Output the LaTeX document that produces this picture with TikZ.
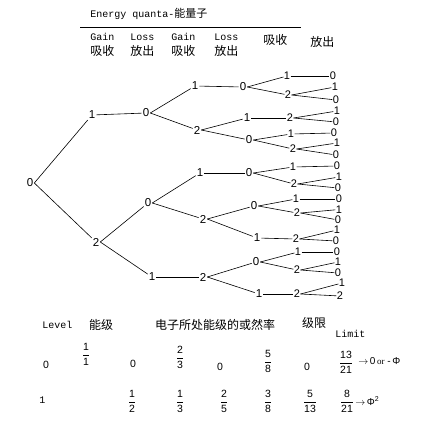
\documentclass[tikz,border=0pt]{standalone}
\usepackage{amsmath}
\usepackage{fontspec}
\setmainfont{Liberation Sans}
\newfontfamily\monofnt{Liberation Mono}
\newfontfamily\serfnt{Liberation Serif}
\newfontfamily\cjk{Noto Sans CJK SC}
\newcommand{\fr}[2]{$\dfrac{\text{#1}}{\text{#2}}$}

\begin{document}
\begin{tikzpicture}[x=1pt, y=-1pt, line width=0.6pt,
  num/.style={font=\fontsize{11.5}{13}\selectfont, inner sep=0.8pt},
  leaf/.style={font=\fontsize{11}{13}\selectfont, inner sep=0.2pt},
  mono/.style={font=\monofnt\fontsize{10}{12}\selectfont, inner sep=0pt, anchor=west},
  han/.style={font=\cjk\fontsize{12}{14}\selectfont, inner sep=0pt},
  frac/.style={font=\fontsize{10.5}{12}\selectfont, inner sep=0pt}]
	\useasboundingbox (0,0) rectangle (434,428);
	% header
	\node[mono] (title) at (90,14) {Energy quanta-{\cjk\fontsize{11}{13}\selectfont 能量子}};
	\coordinate (hl) at (80,27);
	\coordinate (hr) at (301,27);
	\draw (hl) -- (hr);
	\node[mono] (g1) at (90,37) {Gain};
	\node[mono] (l1) at (130,37) {Loss};
	\node[mono] (g2) at (171,37) {Gain};
	\node[mono] (l2) at (214,37) {Loss};
	\node[han, anchor=west] (g1c) at (90,51) {吸收};
	\node[han, anchor=west] (l1c) at (130,51) {放出};
	\node[han, anchor=west] (g2c) at (171,51) {吸收};
	\node[han, anchor=west] (l2c) at (214,51) {放出};
	\node[han, anchor=west] (g3c) at (263,40) {吸收};
	\node[han, anchor=west] (l3c) at (310,42) {放出};
	% tree
	\node[num] (r0) at (30,183) {0};
	\node[num] (a1) at (92,115) {1};
	\node[num] (a2) at (96,242) {2};
	\node[num] (b1) at (146,113) {0};
	\node[num] (b2) at (148,203) {0};
	\node[num] (b3) at (152,277) {1};
	\node[num] (c1) at (195,86) {1};
	\node[num] (c2) at (197,130) {2};
	\node[num] (c3) at (200,173) {1};
	\node[num] (c4) at (203,219) {2};
	\node[num] (c5) at (203,277) {2};
	\node[num] (d1) at (243,87) {0};
	\node[num] (d2) at (247,118) {1};
	\node[num] (d3) at (249,140) {0};
	\node[num] (d4) at (249,173) {0};
	\node[num] (d5) at (254,206) {0};
	\node[num] (d6) at (257,238) {1};
	\node[num] (d7) at (256,262) {0};
	\node[num] (d8) at (259,294) {1};
	\node[leaf] (e1) at (287,76) {1};
	\node[leaf] (e2) at (288,95) {2};
	\node[leaf] (e3) at (290,118) {2};
	\node[leaf] (e4) at (291,134) {1};
	\node[leaf] (e5) at (293,149) {2};
	\node[leaf] (e6) at (293,167) {1};
	\node[leaf] (e7) at (294,184) {2};
	\node[leaf] (e8) at (296,199) {1};
	\node[leaf] (e9) at (297,213) {2};
	\node[leaf] (e10) at (296,239) {2};
	\node[leaf] (e11) at (298,252) {1};
	\node[leaf] (e12) at (297,270) {2};
	\node[leaf] (e13) at (297,294) {2};
	\node[leaf] (f1) at (333,76) {0};
	\node[leaf] (f2) at (335,87) {1};
	\node[leaf] (f3) at (336,100) {0};
	\node[leaf] (f4) at (337,111) {1};
	\node[leaf] (f5) at (336,122) {0};
	\node[leaf] (f6) at (334,133) {0};
	\node[leaf] (f7) at (337,143) {1};
	\node[leaf] (f8) at (336,155) {0};
	\node[leaf] (f9) at (337,166) {0};
	\node[leaf] (f10) at (339,177) {1};
	\node[leaf] (f11) at (338,188) {0};
	\node[leaf] (f12) at (339,199) {0};
	\node[leaf] (f13) at (339,209.5) {1};
	\node[leaf] (f14) at (338,220) {0};
	\node[leaf] (f15) at (337,230) {1};
	\node[leaf] (f16) at (336,241) {0};
	\node[leaf] (f17) at (337,252) {0};
	\node[leaf] (f18) at (338,262) {1};
	\node[leaf] (f19) at (338,273) {0};
	\node[leaf] (f20) at (342,283) {1};
	\node[leaf] (f21) at (340,296) {2};
	% straight links
	\foreach \p/\c in {a1/b1, b3/c5, c1/d1, c3/d4, d2/e3, d6/e10, d8/e13,
	                   e1/f1, e4/f6, e6/f9, e8/f12, e11/f17}
		\draw (\p) -- (\c);
	% forks
	\foreach \p/\c in {r0/a1, r0/a2, a2/b2, a2/b3, b1/c1, b1/c2, b2/c3, b2/c4,
	                   c2/d2, c2/d3, c4/d5, c4/d6, c5/d7, c5/d8,
	                   d1/e1, d1/e2, d3/e4, d3/e5, d4/e6, d4/e7, d5/e8, d5/e9, d7/e11, d7/e12,
	                   e2/f2, e2/f3, e3/f4, e3/f5, e5/f7, e5/f8, e7/f10, e7/f11,
	                   e9/f13, e9/f14, e10/f15, e10/f16, e12/f18, e12/f19, e13/f20, e13/f21}
		\draw (\p.east) -- (\c);
	% table
	\node[mono] (lvl) at (42,325) {Level};
	\node[han] (nj) at (101,325) {能级};
	\node[han] (prob) at (215,325) {电子所处能级的或然率};
	\node[han] (jx) at (314,323) {级限};
	\node[mono] (lim) at (335,334) {Limit};
	\node[frac] (z0) at (46,365) {0};
	\node[frac] (z1) at (86,354) {\fr{1}{1}};
	\node[frac] (z2) at (133,364) {0};
	\node[frac] (z3) at (180,357) {\fr{2}{3}};
	\node[frac] (z4) at (220,367) {0};
	\node[frac] (z5) at (268,361) {\fr{5}{8}};
	\node[frac] (z6) at (307,367) {0};
	\node[frac] (z7) at (346,362) {\fr{13}{21}};
	\node[frac, anchor=west, font=\fontsize{10}{12}\selectfont] (z8) at (358,361)
		{$\rightarrow$\,0\,{\serfnt\fontsize{9}{10}\selectfont or} -\,Φ};
	\node[mono] (o0) at (39,400) {1};
	\node[frac] (o1) at (132,401) {\fr{1}{2}};
	\node[frac] (o2) at (180,401) {\fr{1}{3}};
	\node[frac] (o3) at (224,401) {\fr{2}{5}};
	\node[frac] (o4) at (268,401) {\fr{3}{8}};
	\node[frac] (o5) at (310,401) {\fr{5}{13}};
	\node[frac] (o6) at (347,401) {\fr{8}{21}};
	\node[frac, anchor=west, font=\fontsize{10}{12}\selectfont] (o7) at (355,401)
		{$\rightarrow$\,Φ\textsuperscript{2}};
\end{tikzpicture}
\end{document}
